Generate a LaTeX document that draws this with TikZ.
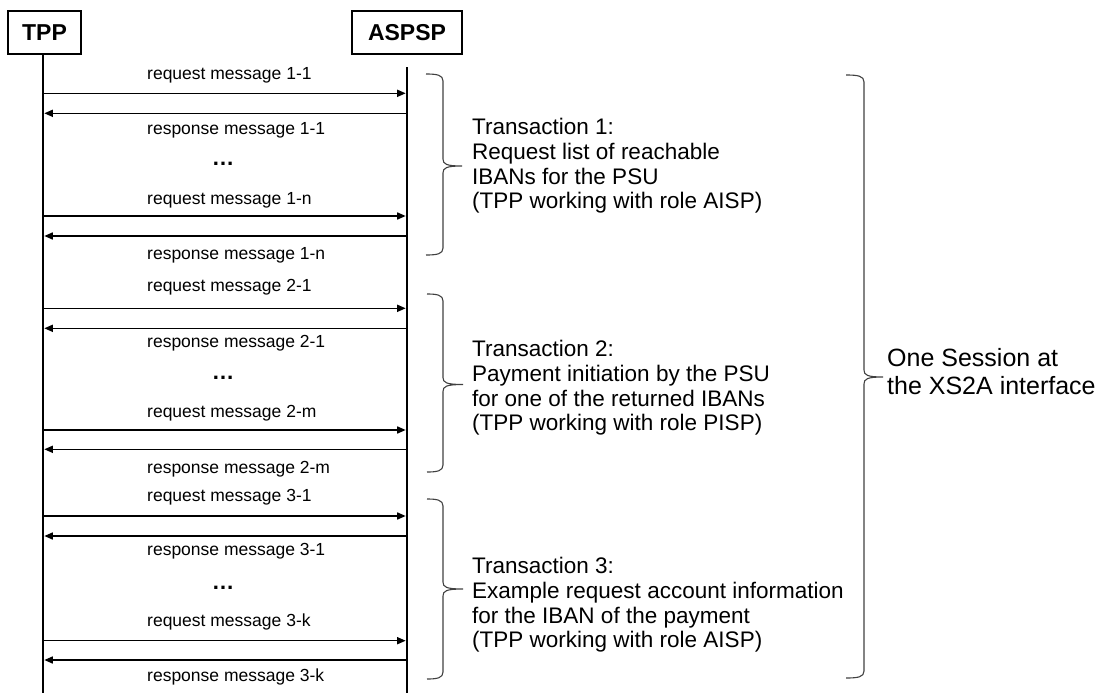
\documentclass[tikz,border=0pt]{standalone}
\usepackage{fontspec}
\setmainfont{Liberation Sans}
\usetikzlibrary{arrows.meta}
\newcommand\mybrace[6]{%
  \draw[brc] (#1,#4) .. controls ({#2-6},#4) and (#2,{#4+1}) .. (#2,{#4+7})
    -- (#2,{#6-7}) .. controls (#2,{#6-2}) and ({#2+3},#6) .. (#3,#6)
    .. controls ({#2+3},#6) and (#2,{#6+2}) .. (#2,{#6+7})
    -- (#2,{#5-7}) .. controls (#2,{#5-1}) and ({#2-6},#5) .. (#1,#5);}
\begin{document}
\begin{tikzpicture}[x=1pt,y=-1pt,
  actor/.style={draw,line width=1.6pt,minimum height=43pt,inner sep=0pt,font=\fontsize{23}{26}\selectfont\bfseries},
  life/.style={line width=2.6pt},
  msg/.style={line width=1.5pt,-{Triangle[length=8.5pt,width=7pt]},shorten >=1.3pt},
  lbl/.style={anchor=west,inner sep=0pt,font=\fontsize{17.5}{20}\selectfont},
  dotsn/.style={anchor=base,inner sep=0pt,font=\fontsize{22.5}{25}\selectfont\bfseries},
  txt/.style={anchor=west,align=left,inner sep=0pt,font=\fontsize{22.5}{24.7}\selectfont},
  brc/.style={line width=1.1pt,draw=black!75}]
\useasboundingbox (0,0) rectangle (1102,693);
% actors
\node[actor,minimum width=73pt] (tpp) at (44.5,32.5) {TPP};
\node[actor,minimum width=110pt] (aspsp) at (407,32.5) {ASPSP};
\coordinate (tppEnd) at (43,693);
\coordinate (aspspStart) at (407,67);
\coordinate (aspspEnd) at (407,693);
\draw[life] (tpp.south -| tppEnd) -- (tppEnd);
\draw[life] (aspspStart) -- (aspspEnd);
% message end points
\foreach \n/\y in {1/93.3,2/113.3,3/216,4/236,5/308.3,6/328.3,7/430,8/449.3,9/516,10/536,11/640.7,12/660}{
  \coordinate (L\n) at (43,\y);
  \coordinate (R\n) at (407,\y);
}
% requests
\foreach \n in {1,3,5,7,9,11}{\draw[msg] (L\n) -- (R\n);}
% responses
\foreach \n in {2,4,6,8,10,12}{\draw[msg] (R\n) -- (L\n);}
% labels
\node[lbl] (q11) at (147,75.7) {request message 1-1};
\node[lbl] (r11) at (147,130) {response message 1-1};
\node[dotsn] (d1) at (223,165.5) {…};
\node[lbl] (q1n) at (147,200.7) {request message 1-n};
\node[lbl] (r1n) at (147,255.7) {response message 1-n};
\node[lbl] (q21) at (147,287.5) {request message 2-1};
\node[lbl] (r21) at (147,343.7) {response message 2-1};
\node[dotsn] (d2) at (223,379) {…};
\node[lbl] (q2m) at (147,413.7) {request message 2-m};
\node[lbl] (r2m) at (147,469) {response message 2-m};
\node[lbl] (q31) at (147,497.5) {request message 3-1};
\node[lbl] (r31) at (147,550.7) {response message 3-1};
\node[dotsn] (d3) at (223,589) {…};
\node[lbl] (q3k) at (147,622.3) {request message 3-k};
\node[lbl] (r3k) at (147,677.3) {response message 3-k};
% braces
\mybrace{426}{443}{462}{74}{255}{166}
\mybrace{427}{443}{463}{294}{472}{384.5}
\mybrace{427}{443}{463}{499}{679}{589}
\mybrace{846}{864}{883}{75}{678}{377}
% transaction texts
\node[txt] (t1) at (472,166) {Transaction 1:\\Request list of reachable\\IBANs for the PSU\\(TPP working with role AISP)};
\node[txt] (t2) at (472,388) {Transaction 2:\\Payment initiation by the PSU\\for one of the returned IBANs\\(TPP working with role PISP)};
\node[txt] (t3) at (472,605) {Transaction 3:\\Example request account information\\for the IBAN of the payment\\(TPP working with role AISP)};
\node[txt,font=\fontsize{25}{28}\selectfont] (sess) at (887,372) {One Session at\\the XS2A interface};
\end{tikzpicture}
\end{document}
